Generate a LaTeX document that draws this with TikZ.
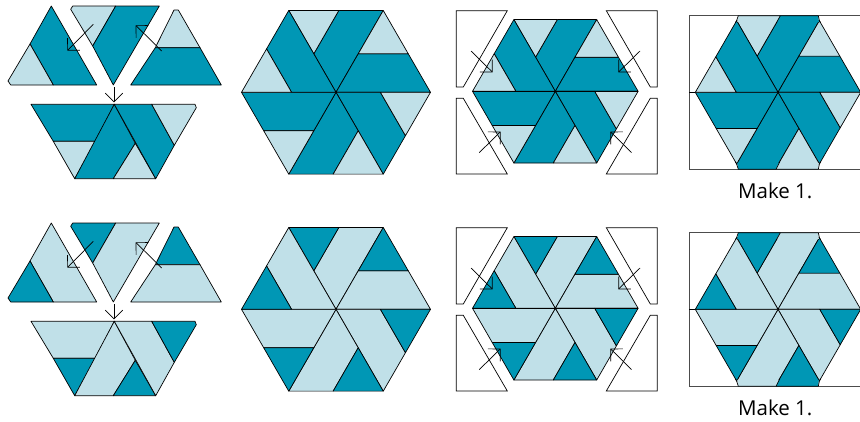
\documentclass[tikz,border=0pt]{standalone}
\usepackage{fontspec}
\setmainfont{Open Sans}
\usetikzlibrary{calc,arrows.meta}
\definecolor{tealA}{HTML}{0097B5}
\definecolor{tealB}{HTML}{C0E0E8}
\tikzset{
  piece/.style={draw=black,line width=0.7pt,line join=round},
  trim/.style={draw=black,line width=0.7pt,fill=white},
  frame/.style={draw=black!70,line width=0.8pt},
  press/.style={draw=black,line width=0.7pt,-{Straight Barb[length=8.7pt,width=17.4pt]}}
}
% one hexagon out of six wedges: centre x, centre y, radius, cut, triangle colour, band colour
\newcommand{\hexblock}[6]{
  \coordinate (O) at (#1,#2);
  \foreach \a in {0,60,...,300} {
    \coordinate (A) at ($(O)+(240+\a:#3)$);
    \coordinate (B) at ($(O)+(300+\a:#3)$);
    \coordinate (P) at ($(A)!#4!(B)$);
    \coordinate (Q) at ($(A)!#4!(O)$);
    \draw[piece,fill=#6] (P) -- (B) -- (O) -- (Q) -- cycle;
    \draw[piece,fill=#5] (A) -- (P) -- (Q) -- cycle;
  }
}
\newcommand{\quiltrow}[3]{
  \begin{scope}[shift={(0,#1)}]
    % three separate wedges
    \draw[piece,fill=#3] (51.3,6) -- (96.7,85) -- (53.3,85) -- (30,44) -- cycle;
    \draw[piece,fill=#2] (30,44) -- (53.3,85) -- (10.7,85) -- (8,81) -- cycle;
    \draw[piece,fill=#2] (70.7,9.3) -- (72.7,6) -- (115.7,6) -- (92.7,46) -- cycle;
    \draw[piece,fill=#3] (115.7,6) -- (159.3,6) -- (113.3,85) -- (92.7,46) -- cycle;
    \draw[piece,fill=#2] (155.3,47.7) -- (200,47.7) -- (178.3,10) -- (174,10) -- cycle;
    \draw[piece,fill=#3] (155.3,47.7) -- (200,47.7) -- (221.3,85) -- (130.7,85) -- cycle;
    \draw[press] (93.3,24.3) -- (67.3,50.7);
    \draw[press] (161.7,51) -- (135.7,25.3);
    \draw[press] (114,87.3) -- (114,102.3);
    % half hexagon below
    \draw[piece,fill=#3] (31,104.3) -- (114.3,104.3) -- (95.7,141.3) -- (53.3,141.3) -- cycle;
    \draw[piece,fill=#2] (53.3,141.3) -- (95.7,141.3) -- (74.7,178.7) -- cycle;
    \draw[piece,fill=#3] (114.3,104.3) -- (135.3,143.3) -- (113.3,178.7) -- (74.7,178.7) -- cycle;
    \draw[piece,fill=#2] (135.3,143.3) -- (155.7,178.7) -- (113.3,178.7) -- cycle;
    \draw[piece,fill=#3] (114.3,104.3) -- (151.7,104.3) -- (174.3,145.3) -- (155.7,178.7) -- cycle;
    \draw[piece,fill=#2] (151.7,104.3) -- (195,104.3) -- (196.3,107.7) -- (174.3,145.3) -- cycle;
    % whole hexagon
    \hexblock{336}{92.3}{94.5}{0.53}{#2}{#3}
    % hexagon with corner trims
    \draw[trim] (456.3,10.7) -- (507.3,10.7) -- (463.3,87) -- (456.3,87) -- cycle;
    \draw[trim] (606.3,10.7) -- (657.3,10.7) -- (657.3,87) -- (650.3,87) -- cycle;
    \draw[trim] (456.3,98.3) -- (463.3,98.3) -- (507.3,174) -- (456.3,174) -- cycle;
    \draw[trim] (606.3,174) -- (650.3,98.3) -- (657.3,98.3) -- (657.3,174) -- cycle;
    \hexblock{555.3}{91.3}{82.8}{0.524}{#2}{#3}
    \draw[line width=1.3pt] (472.5,91.3) -- (638.1,91.3);
    \draw[press] (471,51) -- (492.6,72.3);
    \draw[press] (640,51) -- (618.3,72.3);
    \draw[press] (479.3,152.6) -- (500.6,131.6);
    \draw[press] (631.6,152.6) -- (610.3,131.6);
    % finished block in its square
    \draw[frame] (870,15.7) -- (689.3,15.7) -- (689.3,169.3) -- (870,169.3);
    \draw[piece] (689.3,92.3) -- (695.3,92.3);
    \hexblock{778}{92.3}{82.7}{0.495}{#2}{#3}
    \fill[#2] (737.2,21.8) -- (738.3,15.7) -- (780.3,15.7) -- (776.9,21.8) -- cycle;
    \fill[#3] (780.3,15.7) -- (818.3,15.7) -- (818.8,21.8) -- (776.9,21.8) -- cycle;
    \fill[#3] (737.2,162.9) -- (738.3,169.3) -- (776,169.3) -- (779.1,162.9) -- cycle;
    \fill[#2] (776,169.3) -- (818.3,169.3) -- (818.8,162.9) -- (779.1,162.9) -- cycle;
    \draw[piece] (735.4,22.8) -- (736.6,20.7) -- (738.3,15.7) -- (818.3,15.7) -- (819.4,20.7) -- (820.6,22.8);
    \draw[piece] (735.4,161.9) -- (736.6,164) -- (738.3,169.3) -- (818.3,169.3) -- (819.4,164) -- (820.6,161.9);
    \draw[piece] (776.3,23) -- (780.3,15.7);
    \draw[piece] (779.7,161.9) -- (776,169.3);
    \node[font=\fontsize{20.5}{24}\selectfont] (make#1) at (775.3,191) {Make 1.};
  \end{scope}
}

\begin{document}
\begin{tikzpicture}[x=1pt,y=-1pt]
  \clip (0,0) rectangle (860,421);
  \quiltrow{0}{tealB}{tealA}
  \quiltrow{217}{tealA}{tealB}
\end{tikzpicture}
\end{document}
